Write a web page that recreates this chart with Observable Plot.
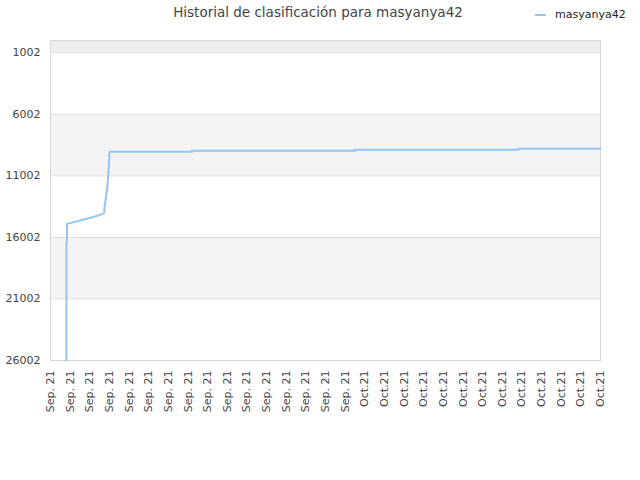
<!DOCTYPE html>
<html>
<head>
<meta charset="utf-8">
<script src="https://cdn.jsdelivr.net/npm/d3@7"></script>
<script src="https://cdn.jsdelivr.net/npm/@observablehq/plot@0.6"></script>
<style>
  body { margin: 0; background: #fff; font-family: "DejaVu Sans", sans-serif; }
  #wrap { position: relative; width: 640px; height: 480px; }
  #title { position: absolute; top: 4px; left: 0; width: 636px; text-align: center; font-size: 13.5px; color: #444; }
  #legend { position: absolute; top: 8px; left: 535px; font-size: 11px; color: #222; display: flex; align-items: center; }
  #legend span.sw { display: inline-block; width: 11px; height: 2px; background: #95c4f3; margin-right: 9px; }
  #chart { position: absolute; top: 0; left: 0; }
</style>
</head>
<body>
<div id="wrap">
  <div id="chart"></div>
  <div id="title">Historial de clasificación para masyanya42</div>
  <div id="legend"><span class="sw"></span>masyanya42</div>
</div>
<script>
const seriesName = "masyanya42";
const tickLabels = [
  "Sep. 21","Sep. 21","Sep. 21","Sep. 21","Sep. 21","Sep. 21","Sep. 21","Sep. 21",
  "Sep. 21","Sep. 21","Sep. 21","Sep. 21","Sep. 21","Sep. 21","Sep. 21","Sep. 21",
  "Oct.21","Oct.21","Oct.21","Oct.21","Oct.21","Oct.21","Oct.21","Oct.21",
  "Oct.21","Oct.21","Oct.21","Oct.21","Oct.21"
];
const yTicks = [1002, 6002, 11002, 16002, 21002, 26002];
const bandStart = [1, 6002, 16002];
const bandEnd = [1002, 11002, 21002];
const bandFill = ["#eeeeee", "#f3f3f3", "#f3f3f3"];
const pointX = [0.81, 0.81, 0.84, 0.84, 1.3, 1.8, 2.3, 2.74, 2.74, 2.8, 2.88, 2.93, 2.97, 3.0, 7.2, 7.2, 15.5, 15.5, 23.8, 23.8, 28];
const pointRank = [26002, 16400, 16300, 14900, 14720, 14500, 14280, 14050, 13700, 13000, 12100, 11100, 10200, 9040, 9040, 8955, 8955, 8873, 8873, 8792, 8792];

const bands = bandStart.map((s, i) => ({y1: s, y2: bandEnd[i], fill: bandFill[i]}));
const pts = pointX.map((x, i) => ({x, rank: pointRank[i]}));

const chart = Plot.plot({
  width: 640,
  height: 480,
  marginLeft: 50,
  marginRight: 40,
  marginTop: 40,
  marginBottom: 120,
  style: { fontFamily: "DejaVu Sans, sans-serif", fontSize: "11px", color: "#444", background: "transparent" },
  x: { domain: [0, tickLabels.length - 1] },
  y: { domain: [26002, 1] },
  marks: [
    Plot.rectY(bands, { y1: "y1", y2: "y2", fill: "fill" }),
    Plot.ruleY(yTicks, { stroke: "#dddddd" }),
    Plot.frame({ stroke: "#d8d8d8" }),
    Plot.axisY({ ticks: yTicks, tickSize: 0, tickPadding: 10, tickFormat: d => String(d), label: null }),
    Plot.axisX({ ticks: d3.range(tickLabels.length), tickSize: 0, tickPadding: 10, tickRotate: -90, tickFormat: i => tickLabels[i], label: null }),
    Plot.line(pts, { x: "x", y: "rank", stroke: "#95c4f3", strokeWidth: 2 })
  ]
});
document.getElementById("chart").appendChild(chart);
</script>
</body>
</html>
